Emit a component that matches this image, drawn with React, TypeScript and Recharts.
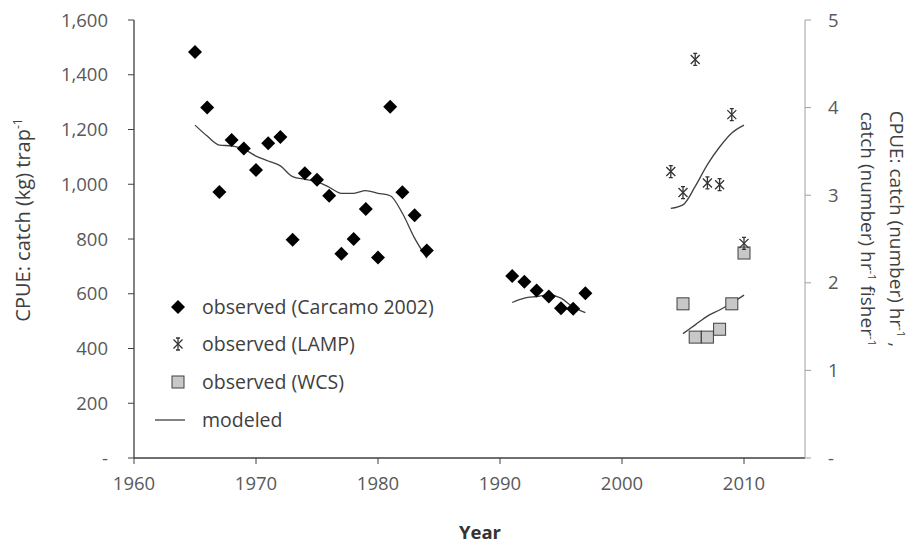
import React from "react";
import {
  ComposedChart,
  Scatter,
  Line,
  XAxis,
  YAxis,
} from "recharts";

// Carcamo 2002 observations, catch (kg) per trap
const carcamoYears = [1965, 1966, 1967, 1968, 1969, 1970, 1971, 1972, 1973, 1974, 1975, 1976, 1977, 1978, 1979, 1980, 1981, 1982, 1983, 1984, 1991, 1992, 1993, 1994, 1995, 1996, 1997];
const carcamoValues = [1483, 1280, 972, 1162, 1131, 1052, 1150, 1173, 797, 1040, 1016, 958, 746, 800, 910, 732, 1283, 971, 887, 758, 665, 644, 612, 590, 547, 545, 602];

// modeled, kg per trap
const modelEarlyYears = [1965, 1966, 1967, 1968, 1969, 1970, 1971, 1972, 1973, 1974, 1975, 1976, 1977, 1978, 1979, 1980, 1981, 1982, 1983, 1984];
const modelEarlyValues = [1216, 1176, 1143, 1140, 1128, 1103, 1085, 1067, 1028, 1018, 1010, 989, 967, 967, 977, 967, 958, 894, 803, 730];
const modelMidYears = [1991, 1992, 1993, 1994, 1995, 1996, 1997];
const modelMidValues = [568, 584, 590, 596, 584, 551, 531];

// LAMP observations + model, number per hour
const lampYears = [2004, 2005, 2006, 2007, 2008, 2009, 2010];
const lampValues = [3.27, 3.03, 4.55, 3.14, 3.12, 3.92, 2.45];
const lampModel = [2.85, 2.89, 3.1, 3.35, 3.55, 3.71, 3.8];

// WCS observations + model, number per hour per fisher
const wcsYears = [2005, 2006, 2007, 2008, 2009, 2010];
const wcsValues = [1.76, 1.38, 1.38, 1.47, 1.76, 2.34];
const wcsModel = [1.42, 1.52, 1.62, 1.69, 1.77, 1.86];

const xTicks = [1960, 1970, 1980, 1990, 2000, 2010];
const leftTicks = [0, 200, 400, 600, 800, 1000, 1200, 1400, 1600];
const rightTicks = [0, 1, 2, 3, 4, 5];

const zip = (years: number[], vals: number[]) =>
  years.map((year, i) => ({ year, v: vals[i] }));

const FONT = "Open Sans";
const tickStyle = { fill: "#595959", fontSize: 18.5, fontFamily: FONT };

const Diamond = ({ cx, cy }: any) => (
  <path d={`M${cx},${cy - 7}L${cx + 7},${cy}L${cx},${cy + 7}L${cx - 7},${cy}Z`} fill="#000" />
);

const Star = ({ cx, cy }: any) => (
  <g stroke="#333" strokeWidth={1.3} fill="none">
    <path d={`M${cx - 4.5},${cy - 4.5}L${cx + 4.5},${cy + 4.5}M${cx + 4.5},${cy - 4.5}L${cx - 4.5},${cy + 4.5}`} />
    <path d={`M${cx},${cy - 6}L${cx},${cy + 6}M${cx - 2},${cy - 6}L${cx + 2},${cy - 6}M${cx - 2},${cy + 6}L${cx + 2},${cy + 6}`} />
  </g>
);

const Square = ({ cx, cy }: any) => (
  <rect x={cx - 6} y={cy - 6} width={12} height={12} fill="#c8c8c8" stroke="#404040" strokeWidth={1} />
);

const fmtLeft = (v: number) => (v === 0 ? "-" : v.toLocaleString("en-US"));
const fmtRight = (v: number) => (v === 0 ? "-" : String(v));

const legendRows = [
  { label: "observed (Carcamo 2002)", kind: "diamond" },
  { label: "observed (LAMP)", kind: "star" },
  { label: "observed (WCS)", kind: "square" },
  { label: "modeled", kind: "line" },
];

function Overlay() {
  const rowY = [307, 344, 382, 420];
  return (
    <svg
      width={913}
      height={548}
      style={{ position: "absolute", left: 0, top: 0, pointerEvents: "none" }}
      fontFamily={FONT}
    >
      {legendRows.map((r, i) => {
        const cy = rowY[i];
        return (
          <g key={r.label}>
            {r.kind === "diamond" && <Diamond cx={178} cy={cy} />}
            {r.kind === "star" && <Star cx={178} cy={cy} />}
            {r.kind === "square" && <Square cx={178} cy={cy} />}
            {r.kind === "line" && <line x1={155} x2={185} y1={cy} y2={cy} stroke="#404040" strokeWidth={1.3} />}
            <text x={202} y={cy + 6.5} fontSize={19.5} fill="#404040">
              {r.label}
            </text>
          </g>
        );
      })}

      <text x={30} y={220} transform="rotate(-90, 30, 220)" textAnchor="middle" fontSize={20} fill="#404040">
        CPUE: catch (kg) trap<tspan dy={-8} fontSize={12}>-1</tspan>
      </text>

      <text x={890} y={229} transform="rotate(90, 890, 229)" textAnchor="middle" fontSize={19} fill="#404040">
        CPUE: catch (number) hr<tspan dy={-7} fontSize={11.5}>-1</tspan>
        <tspan dy={7}> ,</tspan>
      </text>
      <text x={861} y={229} transform="rotate(90, 861, 229)" textAnchor="middle" fontSize={19} fill="#404040">
        catch (number) hr<tspan dy={-7} fontSize={11.5}>-1</tspan>
        <tspan dy={7}> fisher</tspan>
        <tspan dy={-7} fontSize={11.5}>-1</tspan>
      </text>

      <text x={480} y={539} textAnchor="middle" fontSize={18.5} fontWeight={700} fill="#333">
        Year
      </text>
    </svg>
  );
}

export default function App() {
  return (
    <div style={{ position: "absolute", left: 0, top: 0, width: 913, height: 548, background: "#fff" }}>
      <ComposedChart width={913} height={548} margin={{ top: 20, right: 0, bottom: 0, left: 0 }}>
        <XAxis
          dataKey="year"
          type="number"
          domain={[1960, 2015]}
          ticks={xTicks}
          height={90}
          tickSize={6}
          tickMargin={13}
          tick={tickStyle}
          axisLine={{ stroke: "#404040", strokeWidth: 1.3 }}
          tickLine={{ stroke: "#404040" }}
        />
        <YAxis
          yAxisId="left"
          type="number"
          domain={[0, 1600]}
          ticks={leftTicks}
          width={134}
          tickSize={6}
          tickMargin={20}
          tick={tickStyle}
          tickFormatter={fmtLeft}
          axisLine={{ stroke: "#404040", strokeWidth: 1.3 }}
          tickLine={{ stroke: "#404040" }}
        />
        <YAxis
          yAxisId="right"
          orientation="right"
          type="number"
          domain={[0, 5]}
          ticks={rightTicks}
          width={108}
          tickSize={6}
          tickMargin={17}
          tick={tickStyle}
          tickFormatter={fmtRight}
          axisLine={{ stroke: "#a0a0a0" }}
          tickLine={{ stroke: "#a0a0a0" }}
        />

        <Line yAxisId="left" data={zip(modelEarlyYears, modelEarlyValues)} dataKey="v" type="monotone" stroke="#404040" strokeWidth={1.3} dot={false} isAnimationActive={false} />
        <Line yAxisId="left" data={zip(modelMidYears, modelMidValues)} dataKey="v" type="monotone" stroke="#404040" strokeWidth={1.3} dot={false} isAnimationActive={false} />
        <Line yAxisId="right" data={zip(lampYears, lampModel)} dataKey="v" type="monotone" stroke="#404040" strokeWidth={1.3} dot={false} isAnimationActive={false} />
        <Line yAxisId="right" data={zip(wcsYears, wcsModel)} dataKey="v" type="monotone" stroke="#404040" strokeWidth={1.3} dot={false} isAnimationActive={false} />

        <Scatter yAxisId="left" data={zip(carcamoYears, carcamoValues)} dataKey="v" shape={<Diamond />} isAnimationActive={false} />
        <Scatter yAxisId="right" data={zip(wcsYears, wcsValues)} dataKey="v" shape={<Square />} isAnimationActive={false} />
        <Scatter yAxisId="right" data={zip(lampYears, lampValues)} dataKey="v" shape={<Star />} isAnimationActive={false} />
      </ComposedChart>
      <Overlay />
    </div>
  );
}
